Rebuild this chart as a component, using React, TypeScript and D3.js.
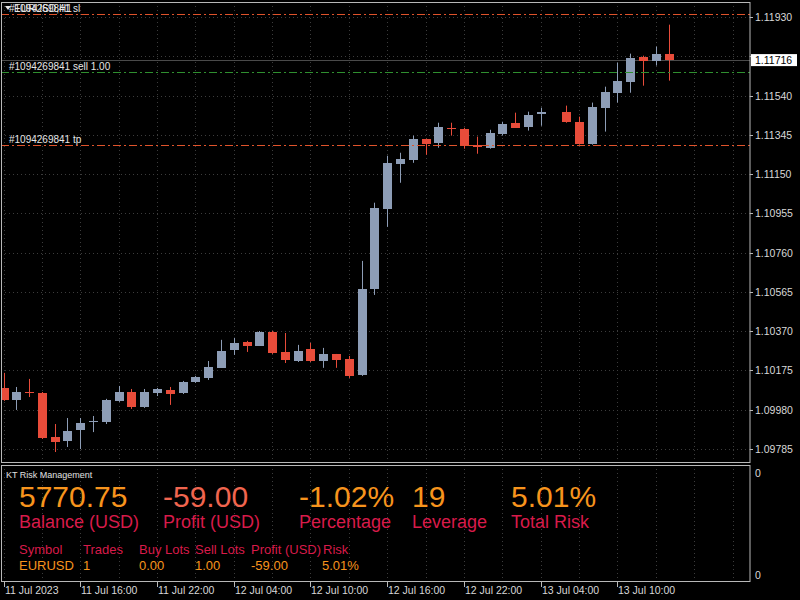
import * as d3 from 'd3';

// H1 bars, index counted in hours from 11 Jul 10:00 (bar 43 missing in source)
const barIndex = [0, 1, 2, 3, 4, 5, 6, 7, 8, 9, 10, 11, 12, 13, 14, 15, 16, 17, 18, 19, 20, 21, 22, 23, 24, 25, 26, 27, 28, 29, 30, 31, 32, 33, 34, 35, 36, 37, 38, 39, 40, 41, 42, 44, 45, 46, 47, 48, 49, 50, 51, 52];
const opens = [1.10088, 1.10029, 1.10066, 1.10063, 1.09845, 1.09825, 1.09879, 1.09917, 1.09919, 1.10024, 1.10068, 1.09994, 1.10063, 1.10078, 1.10063, 1.10118, 1.10138, 1.10188, 1.10277, 1.10317, 1.10297, 1.10366, 1.10267, 1.10222, 1.10282, 1.10222, 1.10257, 1.10232, 1.10153, 1.10580, 1.10978, 1.11201, 1.11221, 1.11326, 1.11306, 1.11380, 1.11375, 1.11296, 1.11281, 1.11351, 1.11405, 1.11385, 1.11450, 1.11460, 1.11410, 1.11301, 1.11480, 1.11554, 1.11609, 1.11733, 1.11713, 1.11748];
const highs = [1.10163, 1.10093, 1.10133, 1.10068, 1.09909, 1.09939, 1.09939, 1.09949, 1.10034, 1.10098, 1.10083, 1.10083, 1.10088, 1.10093, 1.10123, 1.10148, 1.10222, 1.10327, 1.10337, 1.10322, 1.10371, 1.10371, 1.10361, 1.10302, 1.10312, 1.10287, 1.10257, 1.10247, 1.10719, 1.11008, 1.11241, 1.11256, 1.11341, 1.11326, 1.11405, 1.11405, 1.11380, 1.11336, 1.11370, 1.11410, 1.11455, 1.11460, 1.11480, 1.11490, 1.11435, 1.11505, 1.11584, 1.11703, 1.11748, 1.11738, 1.11783, 1.11892];
const lows = [1.10024, 1.09979, 1.10043, 1.09835, 1.09770, 1.09795, 1.09785, 1.09869, 1.09909, 1.10019, 1.09984, 1.09989, 1.10048, 1.10004, 1.10058, 1.10113, 1.10128, 1.10188, 1.10252, 1.10267, 1.10297, 1.10257, 1.10212, 1.10217, 1.10217, 1.10188, 1.10188, 1.10138, 1.10148, 1.10550, 1.10888, 1.11107, 1.11206, 1.11246, 1.11281, 1.11341, 1.11276, 1.11251, 1.11276, 1.11341, 1.11380, 1.11366, 1.11390, 1.11405, 1.11296, 1.11296, 1.11361, 1.11505, 1.11554, 1.11589, 1.11689, 1.11614];
const closes = [1.10029, 1.10068, 1.10061, 1.09840, 1.09820, 1.09874, 1.09914, 1.09922, 1.10029, 1.10068, 1.09994, 1.10068, 1.10083, 1.10058, 1.10118, 1.10143, 1.10193, 1.10272, 1.10312, 1.10297, 1.10366, 1.10262, 1.10227, 1.10272, 1.10222, 1.10257, 1.10227, 1.10148, 1.10580, 1.10983, 1.11206, 1.11226, 1.11326, 1.11301, 1.11385, 1.11373, 1.11291, 1.11286, 1.11356, 1.11400, 1.11380, 1.11445, 1.11460, 1.11410, 1.11301, 1.11485, 1.11559, 1.11614, 1.11728, 1.11713, 1.11748, 1.11716];

const priceTicks = [1.09785, 1.0998, 1.10175, 1.1037, 1.10565, 1.1076, 1.10955, 1.1115, 1.11345, 1.1154, 1.11735, 1.1193];
const timeTickBars = [0, 6, 12, 18, 24, 30, 36, 42, 48];
const timeTickLabels = ['11 Jul 2023', '11 Jul 16:00', '11 Jul 22:00', '12 Jul 04:00', '12 Jul 10:00', '12 Jul 16:00', '12 Jul 22:00', '13 Jul 04:00', '13 Jul 10:00'];

const orderId = '#1094269841';
const slPrice = 1.11946;
const entryPrice = 1.11657;
const tpPrice = 1.11296;
const bidPrice = 1.11716;

const statValues = ['5770.75', '-59.00', '-1.02%', '19', '5.01%'];
const statLabels = ['Balance (USD)', 'Profit (USD)', 'Percentage', 'Leverage', 'Total Risk'];
const tableHeaders = ['Symbol', 'Trades', 'Buy Lots', 'Sell Lots', 'Profit (USD)', 'Risk'];
const tableRow = ['EURUSD', '1', '0.00', '1.00', '-59.00', '5.01%'];

// layout
const W = 800;
const H = 600;
const RIGHT = 750;
const MAIN_TOP = 2;
const MAIN_BOTTOM = 463;
const SUB_TOP = 465;
const SUB_BOTTOM = 581;
const BODY_W = 9;
const STAT_X = [19, 163, 299, 412, 511];
const HEAD_X = [19, 83, 139, 195, 251, 323];
const ROW_X = [19, 83, 139, 195, 251, 322];

const BULL = '#8D9DB6';
const BEAR = '#E84C3A';
const GRID = '#3c3c3c';
const FRAME = '#b8b8b8';
const AXIS_TEXT = '#d8d8d8';
const ORANGE = '#F7941D';
const SALMON = '#F0654F';
const CRIMSON = '#D81B4A';
const SMALL_FONT = '"Liberation Sans", Arial, sans-serif';

export default function App() {
  const x = d3.scaleLinear().domain([0, 52]).range([3.5, 3.5 + 12.79 * 52]);
  const y = d3.scaleLinear().domain([1.09785, 1.1193]).range([449, 17]);
  const py = (p: number) => Math.round(y(p)) + 0.5;
  const px = (b: number) => Math.round(x(b)) + 0.5;

  const gridBars = d3.range(0, 58, 3);

  const candles = barIndex.map((b, i) => {
    const o = opens[i];
    const c = closes[i];
    const color = c >= o ? BULL : BEAR;
    const cx = px(b);
    const top = Math.round(y(Math.max(o, c)));
    const bot = Math.round(y(Math.min(o, c)));
    return (
      <g key={b}>
        <line x1={cx} x2={cx} y1={y(highs[i])} y2={y(lows[i])} stroke={color} strokeWidth={1} />
        <rect x={cx - BODY_W / 2} y={top} width={BODY_W} height={Math.max(bot - top, 1)} fill={color} />
      </g>
    );
  });

  const orderLine = (price: number, color: string, label: string) => (
    <g>
      <line x1={1} x2={RIGHT} y1={py(price)} y2={py(price)} stroke={color} strokeWidth={1} strokeDasharray="8,3,2,3" />
      {label && <text x={9} y={y(price) - 2} fill="#e6e6e6" fontSize={10} fontFamily={SMALL_FONT}>{label}</text>}
    </g>
  );

  return (
    <svg width={W} height={H} style={{ position: 'fixed', left: 0, top: 0, background: '#000' }}>
      <rect width={W} height={H} fill="#000" />
      <defs>
        <clipPath id="main-clip">
          <rect x={1} y={MAIN_TOP} width={RIGHT - 1} height={MAIN_BOTTOM - MAIN_TOP} />
        </clipPath>
      </defs>

      {/* dotted grid */}
      <g stroke={GRID} strokeWidth={1} strokeDasharray="1,3">
        {priceTicks.map((p) => (
          <line key={p} x1={1} x2={RIGHT} y1={py(p)} y2={py(p)} />
        ))}
        {gridBars.map((b) => (
          <line key={'m' + b} x1={px(b)} x2={px(b)} y1={MAIN_TOP} y2={MAIN_BOTTOM} />
        ))}
        {gridBars.map((b) => (
          <line key={'s' + b} x1={px(b)} x2={px(b)} y1={SUB_TOP} y2={SUB_BOTTOM} />
        ))}
      </g>

      <g clipPath="url(#main-clip)">
        {/* bid line */}
        <line x1={1} x2={RIGHT} y1={py(bidPrice)} y2={py(bidPrice)} stroke="#4a4a4a" />
        {candles}
        {orderLine(slPrice, '#E0532B', '')}
        {orderLine(entryPrice, '#2F8F2F', `${orderId} sell 1.00`)}
        {orderLine(tpPrice, '#E0532B', `${orderId} tp`)}
        <path d="M5,6 L11,6 L8,10 Z" fill="#e6e6e6" />
        <text x={14} y={12} fill="#e6e6e6" fontSize={10} fontFamily={SMALL_FONT}>EURUSD,H1</text>
        <text x={9} y={y(slPrice) - 2} fill="#e6e6e6" fontSize={10} fontFamily={SMALL_FONT}>{`${orderId} sl`}</text>
      </g>

      {/* frames */}
      <g fill="none" stroke={FRAME} strokeWidth={1}>
        <rect x={1.5} y={MAIN_TOP + 0.5} width={RIGHT - 1.5} height={MAIN_BOTTOM - MAIN_TOP - 1} />
        <rect x={1.5} y={SUB_TOP + 0.5} width={RIGHT - 1.5} height={SUB_BOTTOM - SUB_TOP} />
      </g>

      {/* price axis; the 1.11735 label sits under the bid box */}
      <g fontFamily={SMALL_FONT} fontSize={10.5} fill={AXIS_TEXT}>
        {priceTicks.map((p) => (
          <g key={p}>
            <line x1={RIGHT} x2={RIGHT + 3} y1={py(p)} y2={py(p)} stroke={FRAME} />
            {Math.abs(y(p) - y(bidPrice)) > 10 && <text x={RIGHT + 5} y={y(p) + 4}>{p.toFixed(5)}</text>}
          </g>
        ))}
        <rect x={RIGHT + 1} y={y(bidPrice) - 6} width={46} height={12} fill="#ffffff" />
        <text x={RIGHT + 5} y={y(bidPrice) + 4} fill="#000">{bidPrice.toFixed(5)}</text>
        <text x={RIGHT + 5} y={477}>0</text>
        <text x={RIGHT + 5} y={579}>0</text>
      </g>

      {/* time axis */}
      <g fontFamily={SMALL_FONT} fontSize={10.5} fill={AXIS_TEXT}>
        {timeTickBars.map((b, i) => (
          <g key={b}>
            <line x1={px(b)} x2={px(b)} y1={SUB_BOTTOM + 1} y2={SUB_BOTTOM + 6} stroke={FRAME} />
            <text x={Math.round(x(b)) + 1} y={594}>{timeTickLabels[i]}</text>
          </g>
        ))}
      </g>

      {/* KT Risk Management panel */}
      <g fontFamily={SMALL_FONT}>
        <text x={6} y={478} fontSize={9} fill="#e0e0e0">KT Risk Management</text>
        {statValues.map((v, i) => (
          <text key={'v' + i} x={STAT_X[i]} y={507} fontSize={30} fill={i === 1 ? SALMON : ORANGE}>{v}</text>
        ))}
        {statLabels.map((l, i) => (
          <text key={'l' + i} x={STAT_X[i]} y={528} fontSize={18} fill={CRIMSON}>{l}</text>
        ))}
        {tableHeaders.map((h, i) => (
          <text key={'h' + i} x={HEAD_X[i]} y={554} fontSize={13} fill={CRIMSON}>{h}</text>
        ))}
        {tableRow.map((c, i) => (
          <text key={'r' + i} x={ROW_X[i]} y={570} fontSize={13} fill={ORANGE}>{c}</text>
        ))}
      </g>
    </svg>
  );
}
